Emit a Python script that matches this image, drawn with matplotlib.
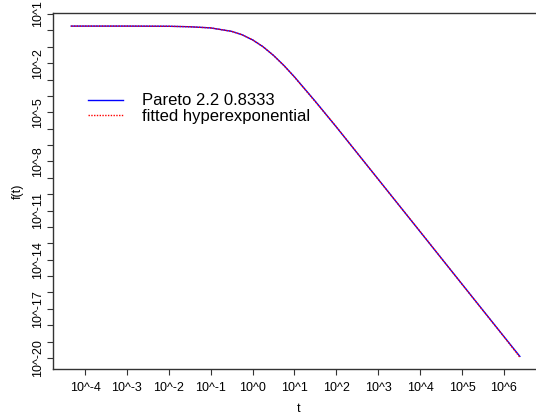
import numpy as np
import matplotlib
matplotlib.use("Agg")
import matplotlib.pyplot as plt

plt.rcParams['font.family'] = ['Liberation Sans', 'DejaVu Sans']

# values (log10 t, log10 f(t))
log_t = [-4.33, -3, -2, -1.5, -1, -0.5, -0.25, 0, 0.25, 0.5, 0.75, 1, 1.5, 2, 3, 4, 5, 6, 6.38]
log_pareto = [0.26, 0.26, 0.25, 0.22, 0.15, -0.06, -0.27, -0.58, -1.0, -1.53, -2.15, -2.84,
              -4.34, -5.90, -9.09, -12.29, -15.49, -18.69, -19.90]
log_hyper = [0.26, 0.26, 0.25, 0.22, 0.15, -0.06, -0.27, -0.58, -1.0, -1.53, -2.15, -2.85,
             -4.36, -5.89, -9.10, -12.28, -15.50, -18.70, -19.95]

x_ticks = [-4, -3, -2, -1, 0, 1, 2, 3, 4, 5, 6]
y_ticks = list(range(1, -21, -1))

t = 10.0 ** np.array(log_t)

fig = plt.figure(figsize=(5.36, 4.19), dpi=100)
ax = fig.add_axes([53/536, 50/419, 492/536, 356/419])

ax.plot(t, 10.0 ** np.array(log_pareto), color='blue', lw=1, label='Pareto 2.2 0.8333')
ax.plot(t, 10.0 ** np.array(log_hyper), color='red', lw=1, ls=(0, (1, 1)), label='fitted hyperexponential')

ax.set_xscale('log')
ax.set_yscale('log')
ax.set_xlim(10 ** -4.764, 10 ** 6.98)
ax.set_ylim(10 ** -20.67, 10 ** 1.06)

ax.set_xticks([10.0 ** k for k in x_ticks])
ax.set_xticklabels(['10^%d' % k for k in x_ticks])
ax.set_yticks([10.0 ** k for k in y_ticks])
ax.set_yticklabels(['10^%d' % k if (1 - k) % 3 == 0 else '' for k in y_ticks],
                   rotation=90, va='center')
ax.minorticks_off()
ax.tick_params(axis='both', labelsize=9, length=4.5, width=0.8, color='#333333')
ax.tick_params(axis='x', pad=5)
ax.tick_params(axis='y', pad=2)

for s in ax.spines.values():
    s.set_color('#333333')
    s.set_linewidth(1)

ax.set_xlabel('t', fontsize=9, labelpad=6)
ax.set_ylabel('f(t)', fontsize=9, labelpad=6)

ax.legend(loc='upper left', bbox_to_anchor=(0.071, 0.774), frameon=False, fontsize=12,
          handlelength=2.1, handletextpad=1.15, labelspacing=0.02,
          borderpad=0, borderaxespad=0)

fig.savefig('out.png', dpi=100)
